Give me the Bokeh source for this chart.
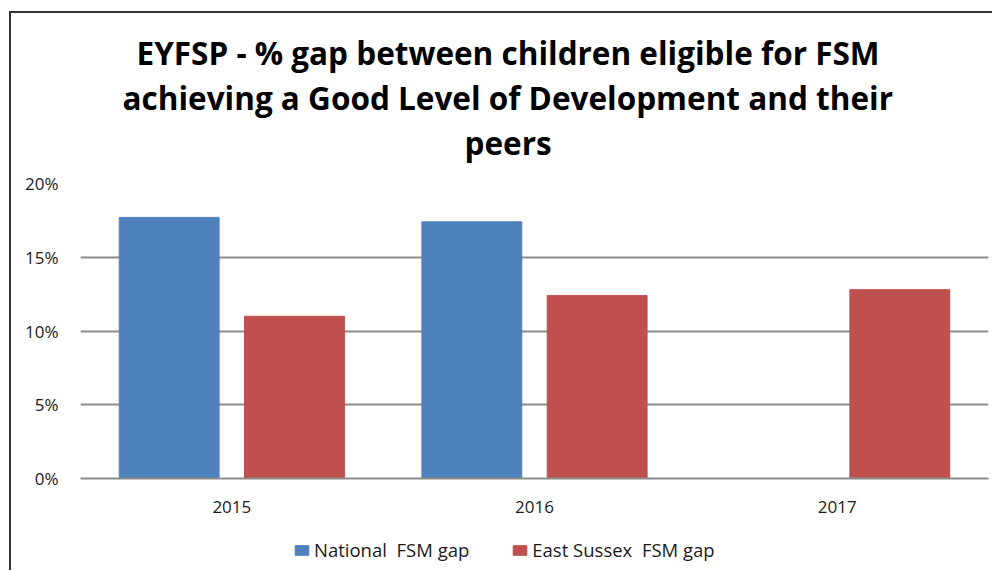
from bokeh.plotting import figure
from bokeh.layouts import column
from bokeh.models import (ColumnDataSource, FactorRange, Range1d, FixedTicker,
                          NumeralTickFormatter, Legend, LegendItem, Title)
from bokeh.transform import dodge
from bokeh.embed import file_html
from bokeh.resources import INLINE

years = ["2015", "2016", "2017"]
national_gap = [0.177, 0.174, float("nan")]
east_sussex_gap = [0.110, 0.124, 0.128]
series_names = ["National  FSM gap", "East Sussex  FSM gap"]
series_colors = ["#4F81BD", "#C0504D"]
title_lines = ["EYFSP - % gap between children eligible for FSM",
               "achieving a Good Level of Development and their",
               "peers"]
y_ticks = [0, 0.05, 0.10, 0.15, 0.20]

src = ColumnDataSource(dict(year=years, national=national_gap, es=east_sussex_gap))

FONT = "Open Sans"
TXT = "#1a1a1a"
GRID = "#8C8C8C"

p = figure(x_range=FactorRange(*years), y_range=Range1d(0, 0.2),
           frame_width=908, frame_height=295,
           output_backend="svg", toolbar_location=None, title=None,
           min_border_left=69, min_border_right=4,
           min_border_top=170, min_border_bottom=50)
p.outline_line_color = None
p.background_fill_color = "white"
p.border_fill_color = "white"

# small spacer between the plot area and the title block
p.add_layout(Title(text=" ", text_font=FONT, text_font_size="13px", standoff=0), "above")
# titles (added bottom-up: first one is nearest the plot), left-aligned with offsets
title_offsets = [384, 42, 56]   # for "peers", line 2, line 1
for i, line in enumerate(reversed(title_lines)):
    t = Title(text=line, align="left", text_font=FONT, text_font_style="bold",
              text_font_size="31.5px", text_color="#000000",
              standoff=0, offset=title_offsets[i])
    p.add_layout(t, "above")

r1 = p.vbar(x=dodge("year", -0.207, range=p.x_range), top="national", width=0.33,
            source=src, fill_color=series_colors[0], line_color=series_colors[0])
r2 = p.vbar(x=dodge("year", 0.207, range=p.x_range), top="es", width=0.33,
            source=src, fill_color=series_colors[1], line_color=series_colors[1])

p.xgrid.visible = False
p.ygrid.ticker = FixedTicker(ticks=y_ticks)
p.ygrid.grid_line_color = GRID
p.ygrid.grid_line_width = 2

p.yaxis.ticker = FixedTicker(ticks=y_ticks)
p.yaxis.formatter = NumeralTickFormatter(format="0%")
p.yaxis.axis_line_color = None
p.yaxis.major_tick_line_color = None
p.yaxis.minor_tick_line_color = None
p.yaxis.major_tick_out = 0
p.yaxis.major_label_standoff = 22
p.yaxis.major_label_text_font = FONT
p.yaxis.major_label_text_font_size = "17px"
p.yaxis.major_label_text_color = TXT

p.xaxis.axis_line_color = GRID
p.xaxis.axis_line_width = 2
p.xaxis.major_tick_line_color = None
p.xaxis.minor_tick_line_color = None
p.xaxis.major_tick_out = 0
p.xaxis.major_label_standoff = 22
p.xaxis.major_label_text_font = FONT
p.xaxis.major_label_text_font_size = "17px"
p.xaxis.major_label_text_color = TXT

# legend strip below the chart (its bars fall outside its visible y-range)
p2 = figure(width=981, height=42, x_range=p.x_range, y_range=Range1d(1, 2),
            output_backend="svg", toolbar_location=None, title=None,
            x_axis_location=None, y_axis_location=None,
            min_border_left=0, min_border_right=0, min_border_top=0, min_border_bottom=0)
p2.grid.visible = False
p2.outline_line_color = None
p2.background_fill_color = "white"
p2.border_fill_color = "white"
lr1 = p2.vbar(x="year", top="national", width=0.33, source=src,
              fill_color=series_colors[0], line_color=series_colors[0])
lr2 = p2.vbar(x="year", top="es", width=0.33, source=src,
              fill_color=series_colors[1], line_color=series_colors[1])
legend = Legend(items=[LegendItem(label=series_names[0], renderers=[lr1]),
                       LegendItem(label=series_names[1], renderers=[lr2])],
                orientation="horizontal", location=(213, 8),
                label_text_font=FONT, label_text_font_size="18.5px",
                label_text_color=TXT, label_standoff=4,
                glyph_width=17, glyph_height=12, spacing=42,
                border_line_color=None, background_fill_alpha=0,
                padding=4, margin=0)
p2.add_layout(legend, "center")

layout = column(p, p2, spacing=0,
                styles={"border-left": "2px solid #333333",
                        "border-top": "2px solid #333333",
                        "margin-left": "9px", "margin-top": "11px"})

open("out.html", "w").write(file_html(layout, INLINE))
